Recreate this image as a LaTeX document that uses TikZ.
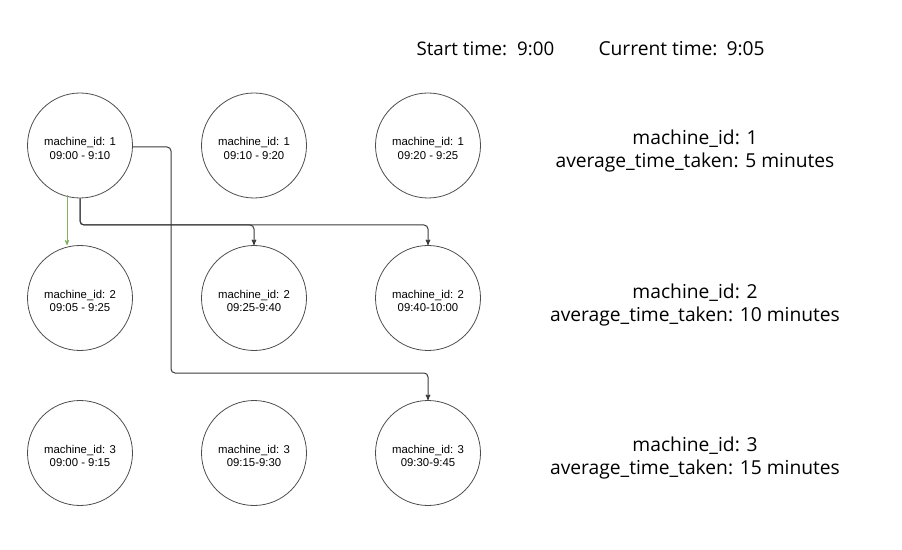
\documentclass[tikz,border=0pt]{standalone}
\usepackage{fontspec}
\setmainfont{Open Sans}
\newfontfamily\circfont{Liberation Sans}
\usepackage{xcolor}
\usetikzlibrary{arrows, positioning}

\definecolor{linegray}{HTML}{3A3A3A}
\definecolor{circlegray}{HTML}{4D4D4D}
\definecolor{greenline}{HTML}{82B366}

\tikzset{
  machine/.style={draw=circlegray, line width=0.8bp, circle, minimum size=105bp, inner sep=0pt},
  mtext/.style={align=center, yshift=-3bp, font=\circfont\fontsize{11.4}{13.8}\selectfont},
  info/.style={align=center, font=\fontsize{19.3}{23}\selectfont},
  link/.style={->, draw=linegray, line width=1bp, rounded corners=4bp},
}

\begin{document}
\begin{tikzpicture}[> = stealth', x=1bp, y=-1bp]
  \useasboundingbox (0,0) rectangle (902,550);

  % tiempos
  \node [info, anchor=base west, font=\fontsize{18.8}{23}\selectfont] (start) at (413,56) {Start time:\hspace{10bp}9:00};
  \node [info, anchor=base west] (current) at (595,56) {Current time:\hspace{9bp}9:05};

  % maquinas
  \node [machine, label={[mtext]center:machine\_id: 1\\09:00 - 9:10}] (m11) at (80,145.5) {};
  \node [machine, label={[mtext]center:machine\_id: 1\\09:10 - 9:20}] (m12) at (254,145.5) {};
  \node [machine, label={[mtext]center:machine\_id: 1\\09:20 - 9:25}] (m13) at (428,145.5) {};

  \node [machine, label={[mtext]center:machine\_id: 2\\09:05 - 9:25}] (m21) at (80,298) {};
  \node [machine, label={[mtext]center:machine\_id: 2\\09:25-9:40}] (m22) at (254,298) {};
  \node [machine, label={[mtext]center:machine\_id: 2\\09:40-10:00}] (m23) at (428,298) {};

  \node [machine, label={[mtext]center:machine\_id: 3\\09:00 - 9:15}] (m31) at (80,453) {};
  \node [machine, label={[mtext]center:machine\_id: 3\\09:15-9:30}] (m32) at (254,453) {};
  \node [machine, label={[mtext]center:machine\_id: 3\\09:30-9:45}] (m33) at (428,453) {};

  % promedios
  \node [info] (avg1) at (695,151) {machine\_id: 1\\average\_time\_taken: 5 minutes};
  \node [info] (avg2) at (695,305) {machine\_id: 2\\average\_time\_taken: 10 minutes};
  \node [info] (avg3) at (695,458) {machine\_id: 3\\average\_time\_taken: 15 minutes};

  % flechas
  \draw [->, draw=greenline, line width=0.8bp] (m11.south -| 67,0) ++(0,-3) -- (m21.north -| 67,0);
  \draw [link] (m11.south) -- (80,225) -| (m22.north);
  \draw [link] (m11.south) -- (80,225) -| (m23.north);
  \draw [link] (m11.east |- 0,147) -- (171,147) -- (171,373) -| (m33.north);
\end{tikzpicture}
\end{document}
